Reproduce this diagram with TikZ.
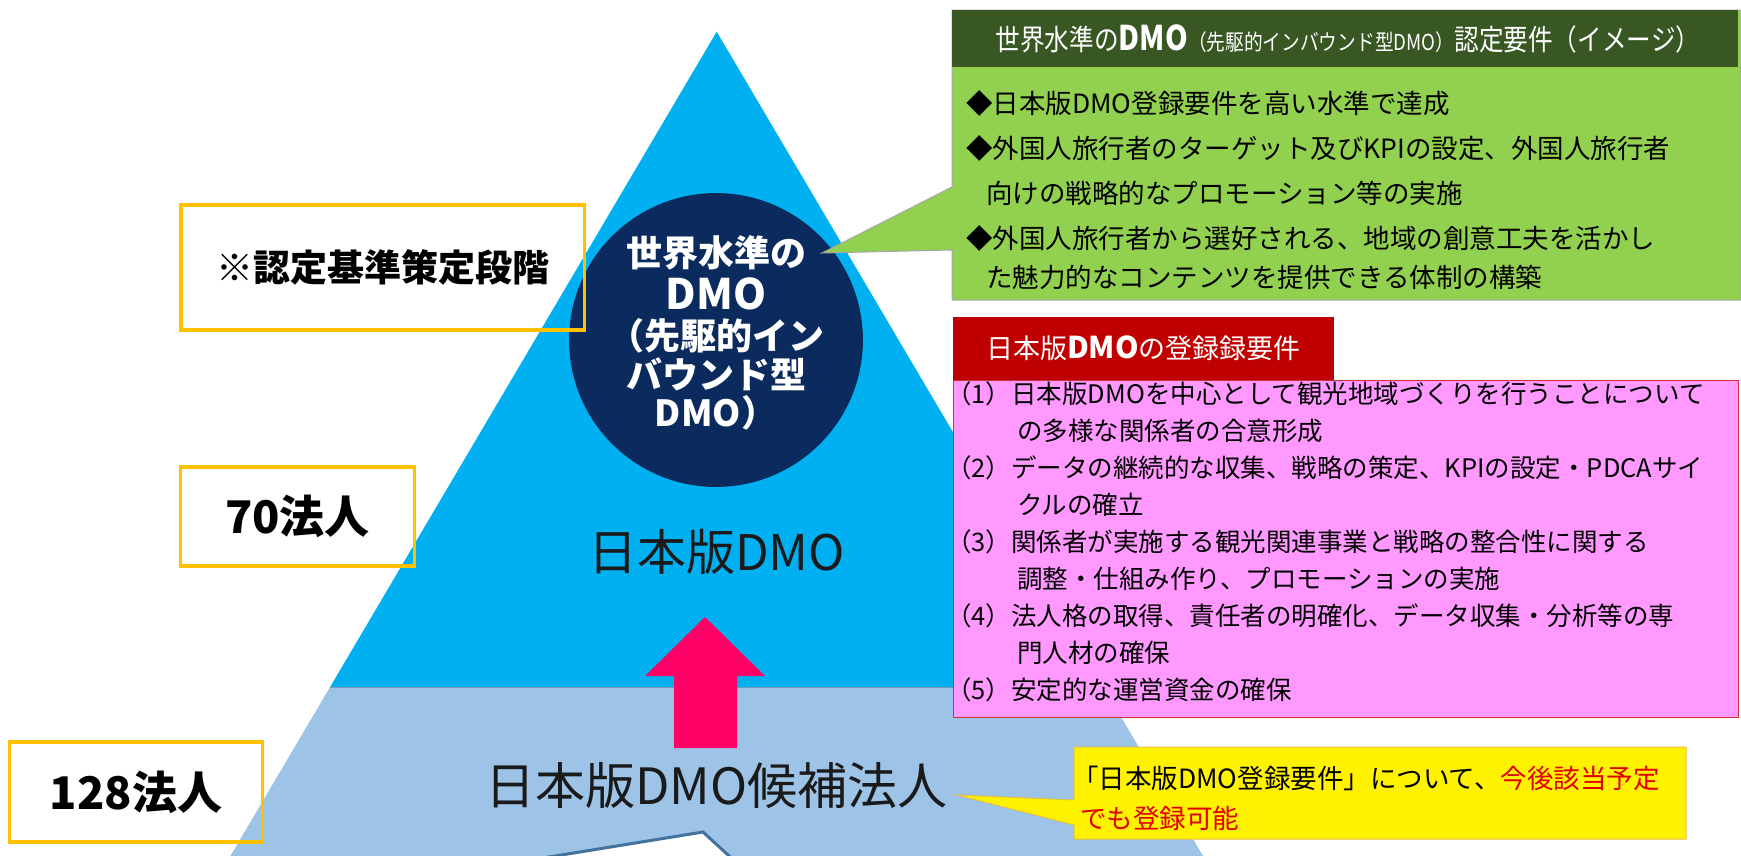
\documentclass[tikz,border=0pt]{standalone}
\usepackage{fontspec}
\setmainfont{Noto Sans CJK JP}
\definecolor{skyb}{HTML}{00B0F0}
\definecolor{lightb}{HTML}{9DC3E6}
\definecolor{navyc}{HTML}{0B2A5E}
\definecolor{arrowred}{HTML}{FF0066}
\definecolor{dgreen}{HTML}{385723}
\definecolor{lgreen}{HTML}{92D050}
\definecolor{hred}{HTML}{C00000}
\definecolor{pinkb}{HTML}{FF99FF}
\definecolor{goldc}{HTML}{FFC000}
\definecolor{edgeb}{HTML}{41719C}
\definecolor{txtred}{HTML}{E00000}
\definecolor{ybord}{HTML}{E6C040}
\definecolor{textdark}{HTML}{1A1A1A}
\newcommand\myfs[1]{\fontsize{#1bp}{#1bp}\selectfont}
\begin{document}
\begin{tikzpicture}[x=1bp,y=-1bp,
  goldbox/.style={draw=goldc, line width=3.5bp, inner sep=0, font=\bfseries\myfs{37}},
  ctext/.style={inner sep=0, text=white, font=\bfseries\myfs{36}},
  gline/.style={anchor=west, inner sep=0, font=\myfs{26.5}},
  pline/.style={anchor=west, inner sep=0, font=\myfs{25.5}},
  yline/.style={anchor=west, inner sep=0, font=\myfs{26.5}},
  bigtext/.style={inner sep=0, text=textdark, font=\myfs{50}}]
\useasboundingbox (0,0) rectangle (1741,856);
\clip (0,0) rectangle (1741,856);
\fill[white] (0,0) rectangle (1741,856);
% pyramid
\coordinate (apex) at (716.7,31.7);
\fill[skyb] (apex) -- (1103.3,687) -- (330.1,687) -- cycle;
\fill[lightb] (330.1,687) -- (1103.3,687) -- (1229,900) -- (204.4,900) -- cycle;
\draw[edgeb!70, line width=1] (330.1,687) -- (1103.3,687);
% circle
\node[circle, fill=navyc, minimum size=295, inner sep=0] (circ) at (716,340) {};
\node[ctext] (c1) at (716,253) {世界水準の};
\node[ctext, font=\bfseries\myfs{42}] (c2) at (716,294) {DMO};
\node[ctext] (c3) at (716,336) {（先駆的イン};
\node[ctext] (c4) at (716,374) {バウンド型};
\node[ctext] (c5) at (716,413) {DMO）};
% tier texts
\node[bigtext, font=\myfs{49}] (dmo) at (716.5,552) {日本版DMO};
\node[bigtext] (cand) at (716.5,786) {日本版DMO候補法人};
% arrow
\fill[arrowred] (705,617) -- (765,676) -- (737,676) -- (737,748) -- (674,748) -- (674,676) -- (645,676) -- cycle;
% white callout at bottom
\filldraw[fill=white, draw=edgeb, line width=3] (284,900) -- (703,832) -- (777,900);
% left boxes
\node[goldbox, minimum width=405, minimum height=125] (b1) at (382.5,267.5) {※認定基準策定段階};
\node[goldbox, minimum width=235, minimum height=99, font=\bfseries\myfs{45}] (b2) at (297.5,516.5) {70法人};
\node[goldbox, minimum width=254, minimum height=100, font=\bfseries\myfs{45}] (b3) at (136,792) {128法人};
% green callout
\coordinate (gtip) at (822,253);
\filldraw[fill=lgreen, draw=black!35, line width=1] (952,10) -- (1741,10) -- (1741,300) -- (952,300) -- (952,250) -- (gtip) -- (952,187) -- cycle;
\node[fill=dgreen, minimum width=789, minimum height=57, anchor=north west, inner sep=0] (ghead) at (952,10) {};
\node[inner sep=0, text=white] (ght) at (1348,39) {\scalebox{0.85}[1]{\myfs{29}世界水準の{\bfseries\myfs{34}DMO}{\myfs{22}（先駆的インバウンド型DMO）}認定要件（イメージ）}};
\node[gline] (g1) at (966,103) {◆日本版DMO登録要件を高い水準で達成};
\node[gline] (g2) at (966,148) {◆外国人旅行者のターゲット及びKPIの設定、外国人旅行者};
\node[gline] (g3) at (986,193) {向けの戦略的なプロモーション等の実施};
\node[gline] (g4) at (966,238) {◆外国人旅行者から選好される、地域の創意工夫を活かし};
\node[gline] (g5) at (986,277) {た魅力的なコンテンツを提供できる体制の構築};
% pink box
\filldraw[fill=pinkb, draw=hred!80, line width=1] (953,380) rectangle (1738,717);
\node[fill=hred, minimum width=382, minimum height=63, anchor=north west, inner sep=0] (phead) at (953,317) {};
\node[inner sep=0, text=white, font=\myfs{27}] (pht) at (phead.center) {日本版{\bfseries\myfs{30}DMO}の登録録要件};
\node[pline] (p1) at (946,394) {（1）日本版DMOを中心として観光地域づくりを行うことについて};
\node[pline] (p2) at (1017,431) {の多様な関係者の合意形成};
\node[pline] (p3) at (946,468) {（2）データの継続的な収集、戦略の策定、KPIの設定・PDCAサイ};
\node[pline] (p4) at (1017,505) {クルの確立};
\node[pline] (p5) at (946,542) {（3）関係者が実施する観光関連事業と戦略の整合性に関する};
\node[pline] (p6) at (1017,579) {調整・仕組み作り、プロモーションの実施};
\node[pline] (p7) at (946,616) {（4）法人格の取得、責任者の明確化、データ収集・分析等の専};
\node[pline] (p8) at (1017,653) {門人材の確保};
\node[pline] (p9) at (946,690) {（5）安定的な運営資金の確保};
% yellow callout
\coordinate (ytip) at (957,795);
\filldraw[fill=yellow, draw=ybord, line width=1] (1074,747) -- (1686,747) -- (1686,839) -- (1074,839) -- (1074,825) -- (ytip) -- (1074,800) -- cycle;
\node[yline] (y1) at (1072,778) {「日本版DMO登録要件」について、\textcolor{txtred}{今後該当予定}};
\node[yline, text=txtred] (y2) at (1080,818) {でも登録可能};
\end{tikzpicture}
\end{document}
